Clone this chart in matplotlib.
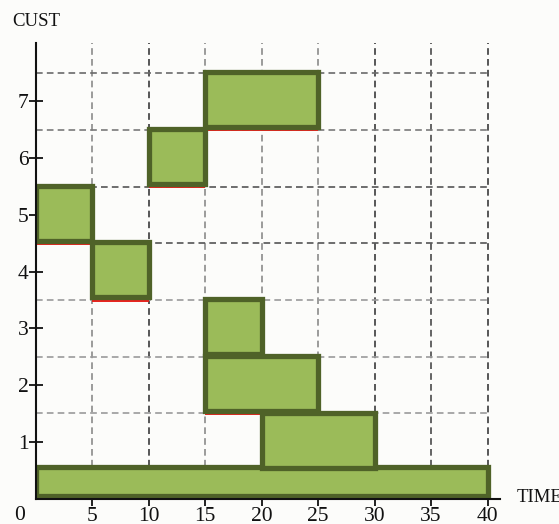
import matplotlib
matplotlib.use('Agg')
import matplotlib.pyplot as plt

# Data: service intervals per customer
cust = [0, 1, 2, 3, 4, 5, 6, 7]
start = [0, 20, 15, 15, 5, 0, 10, 15]
end = [40, 30, 25, 20, 10, 5, 15, 25]

xticks = [5, 10, 15, 20, 25, 30, 35, 40]
yticks = [1, 2, 3, 4, 5, 6, 7]
grid_x = [5, 10, 15, 20, 25, 30, 35, 40]
grid_y = [1.5, 2.5, 3.5, 4.5, 5.5, 6.5, 7.5]

plt.rcParams['font.family'] = 'Liberation Serif'

W, H = 559, 524
fig = plt.figure(figsize=(W / 100, H / 100), dpi=100)
fig.patch.set_facecolor('#fcfcfa')

x0, x1 = 35.5, 500
y0, y1 = 498.5, 43
ax = fig.add_axes([x0 / W, 1 - y0 / H, (x1 - x0) / W, (y0 - y1) / H])
ax.set_facecolor('none')
ax.set_xlim(0, 41.1)
ax.set_ylim(0, 8.03)

# dashed grid
vcol = {5: '#8a8a8a', 10: '#3a3a3a', 15: '#8a8a8a', 20: '#8a8a8a',
        25: '#8a8a8a', 30: '#3a3a3a', 35: '#4a4a4a', 40: '#3a3a3a'}
hcol = {1.5: '#9a9a9a', 2.5: '#9a9a9a', 3.5: '#9a9a9a', 4.5: '#555555',
        5.5: '#555555', 6.5: '#7a7a7a', 7.5: '#6a6a6a'}
for gx in grid_x:
    ax.plot([gx, gx], [0, 8.03], ls=(0, (4, 2.5)), lw=1.2, color=vcol[gx], zorder=1)
for gy in grid_y:
    ax.plot([0, 40], [gy, gy], ls=(0, (4, 2.5)), lw=1.2, color=hcol[gy], zorder=1)

# red baselines under each customer box
for c, s, e in zip(cust, start, end):
    if c > 0:
        ax.plot([s, e], [c - 0.5 - 0.012, c - 0.5 - 0.012], color='#e8201a', lw=1.4,
                zorder=2, solid_capstyle='butt')

# boxes
for c, s, e in zip(cust, start, end):
    if c == 0:
        bot, h = 0.05, 0.51
    else:
        bot, h = c - 0.455, 0.97
    ax.barh(bot, e - s, left=s, height=h, align='edge', color='#9bbb59',
            edgecolor='#4f6228', linewidth=3.8, zorder=3)

for side in ['top', 'right']:
    ax.spines[side].set_visible(False)
for side in ['left', 'bottom']:
    ax.spines[side].set_linewidth(1.5)
    ax.spines[side].set_color('#111111')
    ax.spines[side].set_zorder(4)

ax.set_xticks(xticks)
ax.set_yticks(yticks)
ax.tick_params(axis='both', direction='inout', length=10, width=1.3,
               labelsize=15.5, colors='#111111')
ax.tick_params(axis='x', pad=1)
ax.tick_params(axis='y', pad=0)

ax.text(-1.4, -0.3, '0', fontsize=15.5, ha='center', va='center', color='#111111')
fig.text(12 / W, 1 - 22 / H, 'CUST', fontsize=13.5, ha='left', va='center', color='#111111')
fig.text(517 / W, 1 - 497 / H, 'TIME', fontsize=13.5, ha='left', va='center', color='#111111')

fig.savefig('out.png', dpi=100, facecolor=fig.get_facecolor())
